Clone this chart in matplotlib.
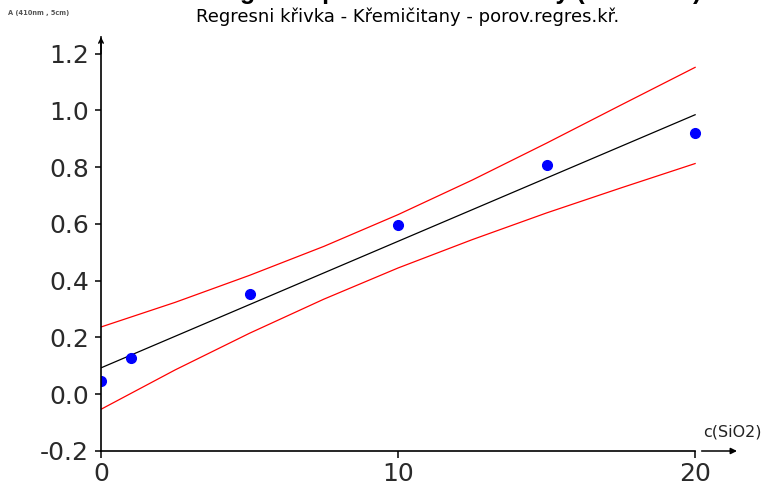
import matplotlib
matplotlib.use("Agg")
import matplotlib.pyplot as plt

# measured points
conc = [0, 1, 5, 10, 15, 20]
absorb = [0.046, 0.127, 0.352, 0.596, 0.807, 0.920]

# regression line and its confidence band
line_x = [0, 20]
line_y = [0.093, 0.985]
band_x = [0, 2.5, 5, 7.5, 10, 12.5, 15, 17.5, 20]
band_hi = [0.237, 0.324, 0.419, 0.521, 0.633, 0.755, 0.885, 1.019, 1.152]
band_lo = [-0.053, 0.086, 0.215, 0.335, 0.445, 0.545, 0.639, 0.727, 0.813]

yticks = [-0.2, 0.0, 0.2, 0.4, 0.6, 0.8, 1.0, 1.2]
xticks = [0, 10, 20]

W, H = 778, 488
fig = plt.figure(figsize=(W / 100, H / 100), dpi=100)
ax = fig.add_axes([101 / W, 37 / H, 636 / W, 414 / H])

ax.plot(band_x, band_hi, color="red", lw=0.9)
ax.plot(band_x, band_lo, color="red", lw=0.9)
ax.plot(line_x, line_y, color="black", lw=0.9)
ax.plot(conc, absorb, "o", color="#0000ff", ms=7, mec="#0000ff")

ax.set_xlim(0, 21.41)
ax.set_ylim(-0.2, 1.259)

for s in ["top", "right"]:
    ax.spines[s].set_visible(False)
ax.spines["left"].set_linewidth(1.2)
ax.spines["bottom"].set_linewidth(1.2)
ax.spines["bottom"].set_bounds(0, 20)

ax.set_xticks(xticks)
ax.set_xticklabels([str(t) for t in xticks])
ax.set_yticks(yticks)
ax.set_yticklabels(["%.1f" % t for t in yticks])
ax.tick_params(axis="x", length=5, width=1.1, pad=3, labelsize=18, colors="black")
ax.tick_params(axis="y", length=4.5, width=1.1, pad=4, labelsize=18, colors="black")
for lab in ax.get_xticklabels() + ax.get_yticklabels():
    lab.set_color("#2a2a2a")

# axis arrows
ax.annotate("", xy=(0, 1.259), xytext=(0, 1.20),
            arrowprops=dict(arrowstyle="->", lw=1.1, color="black",
                            mutation_scale=8, shrinkA=0, shrinkB=0),
            annotation_clip=False)
ax.annotate("", xy=(21.41, -0.2), xytext=(20.22, -0.2),
            arrowprops=dict(arrowstyle="-|>", lw=1.1, color="black",
                            mutation_scale=9, shrinkA=0, shrinkB=0),
            annotation_clip=False)

fig.text(703 / W, 1 - 432 / H, "c(SiO2)", fontsize=11.5, color="#222222",
         ha="left", va="center")
fig.text(8 / W, 1 - 13 / H, "A (410nm , 5cm)", fontsize=4.8, color="#555555",
         fontweight="bold", ha="left", va="center")
fig.text(408 / W, 1 - 17 / H, "Regresni křivka - Křemičitany - porov.regres.kř.",
         fontsize=13, ha="center", va="center")
fig.text(455 / W, 1 + 1 / H, "Regresní přímka - Křemičitany (kalibrace)",
         fontsize=18, fontweight="bold", family="Liberation Sans",
         ha="center", va="baseline")

fig.savefig("out.png", dpi=100)
